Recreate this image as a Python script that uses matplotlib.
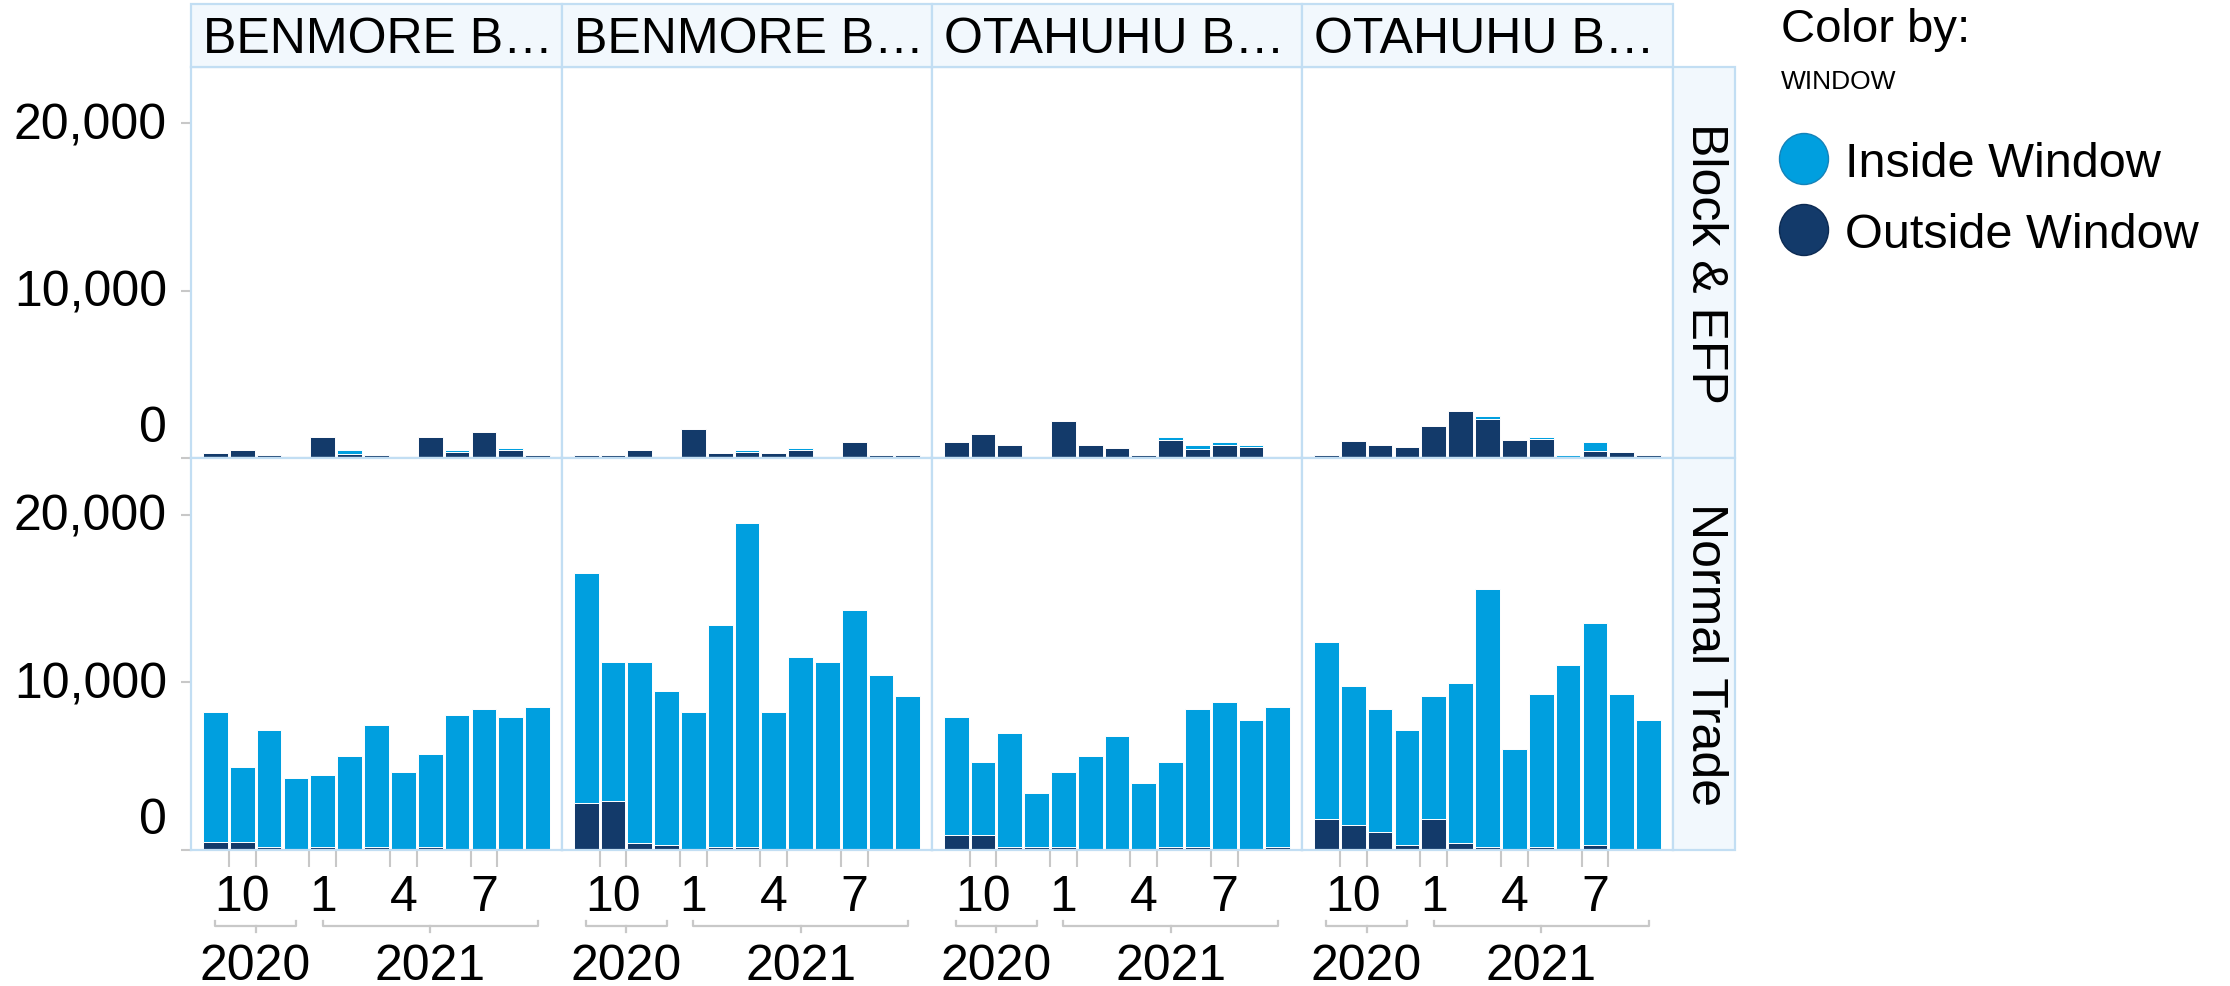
import matplotlib
matplotlib.use("Agg")
import matplotlib.pyplot as plt
import numpy as np
from matplotlib.patches import Rectangle, Ellipse
from matplotlib.transforms import ScaledTranslation, blended_transform_factory

plt.rcParams["font.family"] = ["Liberation Sans", "DejaVu Sans"]

# months shown on each panel (Sep 2020 .. Sep 2021)
months = [9, 10, 11, 12, 1, 2, 3, 4, 5, 6, 7, 8, 9]
years = [2020, 2020, 2020, 2020, 2021, 2021, 2021, 2021, 2021, 2021, 2021, 2021, 2021]
labelled_months = [10, 1, 4, 7]

columns = ["BENMORE B\u2026", "BENMORE B\u2026", "OTAHUHU B\u2026", "OTAHUHU B\u2026"]
rows = ["Block & EFP", "Normal Trade"]
windows = ["Inside Window", "Outside Window"]
y_ticks = [0, 10000, 20000]
y_max = 23370

# Block & EFP
bm1_block_out = [320, 500, 180, 0, 1275, 260, 180, 0, 1275, 360, 1575, 500, 180]
bm1_block_in = [0, 0, 0, 0, 0, 240, 0, 0, 0, 140, 0, 120, 0]
bm2_block_out = [180, 180, 500, 0, 1730, 320, 360, 320, 500, 0, 960, 180, 180]
bm2_block_in = [0, 0, 0, 0, 0, 0, 140, 0, 120, 0, 0, 0, 0]
oh1_block_out = [960, 1410, 780, 0, 2190, 780, 620, 160, 1100, 560, 800, 640, 0]
oh1_block_in = [0, 0, 0, 0, 0, 0, 0, 0, 160, 240, 160, 160, 0]
oh2_block_out = [180, 1000, 800, 640, 1890, 2830, 2350, 1100, 1120, 0, 420, 340, 180]
oh2_block_in = [0, 0, 0, 0, 0, 0, 180, 0, 160, 180, 560, 0, 0]

# Normal Trade
bm1_normal_out = [450, 450, 150, 80, 150, 80, 150, 0, 150, 80, 80, 80, 80]
bm1_normal_in = [7770, 4490, 6980, 4240, 4340, 5510, 7310, 4650, 5570, 7990, 8300, 7830, 8460]
bm2_normal_out = [2790, 2950, 430, 290, 80, 150, 150, 0, 80, 80, 80, 80, 80]
bm2_normal_in = [13730, 8240, 10760, 9180, 8140, 13250, 19340, 8220, 11420, 11110, 14240, 10330, 9080]
oh1_normal_out = [900, 900, 150, 150, 150, 80, 0, 0, 150, 150, 80, 80, 150]
oh1_normal_in = [7010, 4370, 6840, 3250, 4480, 5510, 6820, 4020, 5120, 8230, 8770, 7690, 8390]
oh2_normal_out = [1840, 1520, 1090, 290, 1840, 430, 150, 80, 150, 0, 290, 80, 80]
oh2_normal_in = [10580, 8270, 7290, 6840, 7320, 9510, 15400, 5940, 9170, 11020, 13230, 9240, 7690]

panels = [
    [(bm1_block_in, bm1_block_out), (bm2_block_in, bm2_block_out),
     (oh1_block_in, oh1_block_out), (oh2_block_in, oh2_block_out)],
    [(bm1_normal_in, bm1_normal_out), (bm2_normal_in, bm2_normal_out),
     (oh1_normal_in, oh1_normal_out), (oh2_normal_in, oh2_normal_out)],
]

LIGHT = "#009fdf"
DARK = "#133a6a"
FRAME = "#c2def3"
HEAD = "#f2f8fd"
GREY = "#c8c8c8"

W, H = 2230, 987
fig = plt.figure(figsize=(W / 100, H / 100), dpi=100)


def fbox(x0, y0, x1, y1):
    return [x0 / W, 1 - y1 / H, (x1 - x0) / W, (y1 - y0) / H]


def px(dx, dy):
    return ScaledTranslation(dx / 100, -dy / 100, fig.dpi_scale_trans)


col_x = [191, 562, 932, 1302, 1673]
row_y = [(68, 459), (459, 851)]
x = np.arange(len(months))

for c, name in enumerate(columns):
    x0, x1 = col_x[c], col_x[c + 1]
    fig.add_artist(Rectangle((x0 / W, 1 - 68 / H), (x1 - x0) / W, 63 / H,
                             transform=fig.transFigure, facecolor=HEAD,
                             edgecolor=FRAME, lw=1.6))
    fig.text(x0 + 12, H - 53, name, transform=None, fontsize=36,
             ha="left", va="baseline")

for r, rname in enumerate(rows):
    y0, y1 = row_y[r]
    fig.add_artist(Rectangle((1673 / W, 1 - y1 / H), 62 / W, (y1 - y0) / H,
                             transform=fig.transFigure, facecolor=HEAD,
                             edgecolor=FRAME, lw=1.6))
    fig.text(1705 / W, 1 - (y0 + y1) / 2 / H, rname, fontsize=36,
             rotation=270, ha="center", va="center")

    for c in range(len(columns)):
        inside, outside = panels[r][c]
        inside = np.array(inside)
        outside = np.array(outside)
        ax = fig.add_axes(fbox(col_x[c], y0, col_x[c + 1], y1))
        m = outside > 0
        ax.bar(x[m], outside[m], width=0.92, color=DARK, edgecolor="white", lw=0.7)
        m = inside > 0
        ax.bar(x[m], inside[m], bottom=outside[m], width=0.92, color=LIGHT,
               edgecolor="white", lw=0.7)
        ax.set_xlim(-0.904, len(months) - 1 + 0.904)
        ax.set_ylim(0, y_max)
        for s in ax.spines.values():
            s.set_color(FRAME)
            s.set_linewidth(1.6)
        ax.set_xticks([])
        ax.set_yticks([])

        if c == 0:
            ax.set_yticks(y_ticks)
            ax.tick_params(axis="y", length=7.5, width=1.5, color=GREY,
                           labelleft=False)
            for v in y_ticks:
                dy = 15 if v != 0 else -17
                ax.text(0, v, f"{v:,}", fontsize=36, ha="right", va="baseline",
                        transform=ax.get_yaxis_transform() + px(-24, dy))

        if r == 1:
            idx = [i for i, mth in enumerate(months) if mth in labelled_months]
            edges = sorted([i - 0.5 for i in idx] + [i + 0.5 for i in idx])
            ax.set_xticks(edges, minor=True)
            ax.tick_params(axis="x", which="minor", length=12, width=1.5,
                           color=GREY, labelbottom=False)
            tr = blended_transform_factory(ax.transData, fig.transFigure)
            for i in idx:
                ax.text(i, 1 - 911 / H, str(months[i]), fontsize=36,
                        ha="center", va="baseline", transform=tr, clip_on=False)
            for yr in sorted(set(years)):
                ii = [i for i, y in enumerate(years) if y == yr]
                a, b = ii[0], ii[-1]
                mid = (a + b) / 2
                ax.plot([a, a, b, b], [1 - 921.5 / H, 1 - 926.5 / H, 1 - 926.5 / H, 1 - 921.5 / H],
                        color=GREY, lw=1.6, transform=tr, clip_on=False)
                ax.plot([mid, mid], [1 - 926.5 / H, 1 - 933 / H], color=GREY, lw=1.6,
                        transform=tr, clip_on=False)
                ax.text(mid, 1 - 980 / H, str(yr), fontsize=36, ha="center",
                        va="baseline", transform=tr, clip_on=False)

# legend
fig.text(1781 / W, 1 - 42 / H, "Color by:", fontsize=34, ha="left", va="baseline")
fig.text(1781 / W, 1 - 89 / H, "WINDOW", fontsize=19, ha="left", va="baseline")
for k, (lab, col, edge) in enumerate(zip(windows, [LIGHT, DARK], ["#1582b8", "#0c2a52"])):
    cy = 160 + 71 * k
    fig.add_artist(Ellipse((1804 / W, 1 - cy / H), 49 / W, 51 / H,
                           transform=fig.transFigure, facecolor=col,
                           edgecolor=edge, lw=1))
    fig.text(1845 / W, 1 - (cy + 17) / H, lab, fontsize=35, ha="left", va="baseline")

fig.savefig("out.png", dpi=100)
